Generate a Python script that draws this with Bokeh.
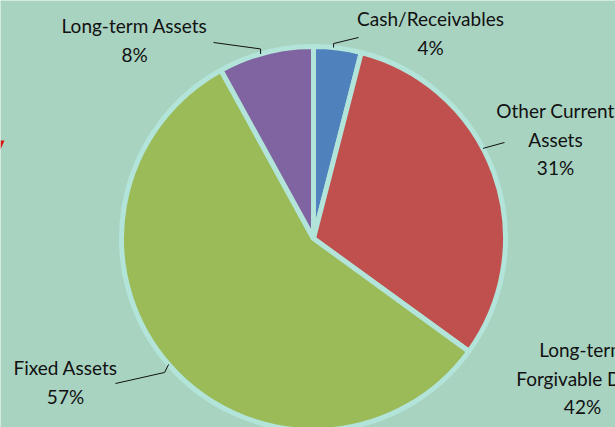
import math
from bokeh.plotting import figure
from bokeh.models import Range1d, ColumnDataSource
from bokeh.core.properties import value
from bokeh.embed import file_html
from bokeh.resources import INLINE

# ---- data ----
categories = ["Cash/Receivables", "Other Current Assets", "Fixed Assets", "Long-term Assets"]
percents = [4, 31, 57, 8]
colors = ["#4f81bd", "#c0504d", "#9bbb59", "#8064a2"]
label_lines = [["Cash/Receivables", "4%"],
               ["Other Current", "Assets", "31%"],
               ["Fixed Assets", "57%"],
               ["Long-term Assets", "8%"]]
extra_label = ["Long-term", "Forgivable Debt", "42%"]

# ---- layout (image px, y down) ----
W, H = 615, 427
BG = "#a9d3c1"
CX, CY, R = 313, 238, 192
label_pos = [(430, 18), (555, 110), (65, 367), (134, 25)]
leader_angle = [6, 62, 229, -16]          # degrees clockwise from 12 o'clock
leader_elbow = [(0, -4), (0, 0), (-4, 8), (0, -5)]
leader_end = [(358, 37), (504, 142), (115, 383), (213, 42)]
extra_pos = (582, 349)
LINE_H = 28.5
FS = "19px"

def by(y):
    return H - y

p = figure(width=W, height=H, output_backend="svg", toolbar_location=None,
           x_range=Range1d(0, W), y_range=Range1d(0, H), min_border=0)
p.axis.visible = False
p.grid.visible = False
p.outline_line_color = None
p.background_fill_color = BG
p.border_fill_color = BG

# wedges
total = sum(percents)
starts, ends = [], []
cum = 0
for v in percents:
    starts.append(math.pi / 2 - 2 * math.pi * cum / total)
    cum += v
    ends.append(math.pi / 2 - 2 * math.pi * cum / total)
src = ColumnDataSource(dict(x=[CX] * len(percents), y=[by(CY)] * len(percents),
                            start=starts, end=ends, color=colors))
p.wedge(x="x", y="y", radius=R, start_angle="start", end_angle="end",
        direction="clock", fill_color="color", line_color="#b2e4da",
        line_width=5, source=src)

# leader lines
for a, (ex, ey), (lx, ly) in zip(leader_angle, leader_elbow, leader_end):
    rad = math.radians(a)
    ax = CX + R * math.sin(rad)
    ay = CY - R * math.cos(rad)
    xs = [ax, ax + ex, lx]
    ys = [by(ay), by(ay + ey), by(ly)]
    p.line(xs, ys, line_color="#111111", line_width=1)

# labels
font = value("Lato")
for lines, (x, y) in zip(label_lines, label_pos):
    for i, t in enumerate(lines):
        p.text(x=[x], y=[by(y + i * LINE_H)], text=[t], text_align="center",
               text_baseline="middle", text_font=font, text_font_size=FS,
               text_color="#111111")
for i, t in enumerate(extra_label):
    p.text(x=[extra_pos[0]], y=[by(extra_pos[1] + i * LINE_H)], text=[t],
           text_align="center", text_baseline="middle", text_font=font,
           text_font_size=FS, text_color="#111111")

# clipped red fragment at left edge
p.patch([0, 4, 0], [by(140), by(140), by(149)], fill_color="#d8140c", line_color=None)

open("out.html", "w").write(file_html(p, INLINE))
